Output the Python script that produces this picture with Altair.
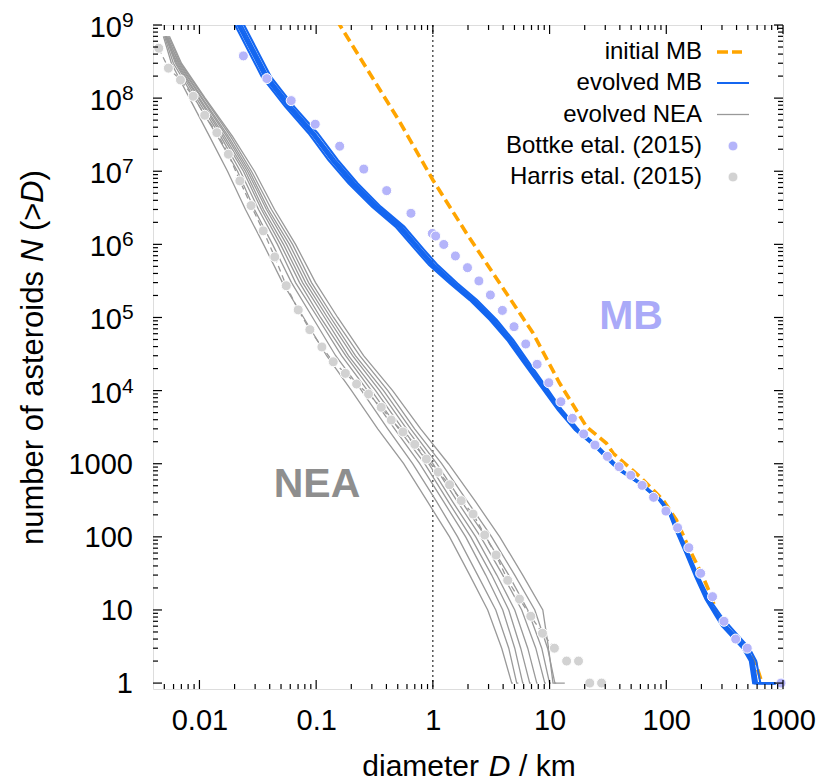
import altair as alt
import pandas as pd

# ---------------- data ----------------
bottke_D = [0.0238, 0.0378, 0.0611, 0.0982, 0.159, 0.256, 0.402, 0.649, 0.990, 1.057,
            1.24, 1.56, 1.98, 2.48, 3.11, 3.94, 4.96, 6.25, 7.82, 9.84,
            12.5, 15.7, 19.6, 24.5, 31.3, 39.4, 49.7, 62.1, 77.8, 99.3,
            125, 156, 197, 249, 312, 393, 494, 962]
bottke_N = [3.78e8, 1.85e8, 9.25e7, 4.40e7, 2.20e7, 1.07e7, 5.43e6, 2.66e6, 1.41e6, 1.30e6,
            9.97e5, 6.94e5, 4.80e5, 3.16e5, 2.03e5, 1.25e5, 7.48e4, 4.34e4, 2.29e4, 1.28e4,
            7050, 4180, 2550, 1800, 1260, 910, 694, 506, 347, 225,
            133, 71, 31.7, 15.2, 7, 4, 3, 1]

harris_D = [0.00448, 0.00542, 0.00688, 0.00884, 0.0111, 0.0141, 0.0177, 0.0222, 0.0277, 0.0352,
            0.0442, 0.0554, 0.0702, 0.0883, 0.112, 0.140, 0.178, 0.222, 0.281, 0.361,
            0.440, 0.554, 0.699, 0.880, 1.11, 1.39, 1.75, 2.21, 2.78, 3.48,
            4.38, 5.52, 6.90, 8.69, 11.0, 14.0, 17.7, 22.1, 27.9]
harris_N = [4.82e8, 2.57e8, 1.77e8, 1.06e8, 5.83e7, 3.37e7, 1.71e7, 7.38e6, 3.39e6, 1.53e6,
            6.73e5, 2.72e5, 1.27e5, 6.81e4, 3.95e4, 2.48e4, 1.72e4, 1.23e4, 8980, 5910,
            3960, 2720, 1840, 1160, 769, 516, 312, 205, 106, 56.4,
            25.4, 14.1, 8.2, 4.8, 3, 2, 2, 1, 1]
harris_line_points = 35  # the dashed gray line runs through the first Harris points

initial_mb_D = [0.150, 0.169, 0.519, 1.00, 1.94, 3.74, 7.23, 12.2, 20.7, 30.7, 35.1,
                59.4, 94.0, 122, 159, 200, 244, 270, 351, 472, 575, 661]
initial_mb_N = [1.17e9, 8.57e8, 4.77e7, 7.6e6, 1.42e6, 2.94e5, 6.08e4, 1.26e4, 3210, 1900, 1387,
                664, 319, 170, 66, 31.7, 15.2, 9, 5, 3, 2, 1]

evolved_mb_N = [1.85e9, 1e9, 1.97e8, 7.65e7, 3.31e7, 1.43e7, 6.86e6, 3.28e6, 1.75e6, 8.4e5,
                5.2e5, 2.94e5, 1.73e5, 9.24e4, 4.92e4, 2.36e4, 1.13e4, 5430, 2890, 1710,
                1010, 821, 540, 319, 210, 124, 60, 28, 14, 8,
                6, 4, 3, 2, 1, 1]
evolved_mb_D_runs = [
    [0.0165, 0.0202, 0.0342, 0.0543, 0.0860, 0.127, 0.189, 0.301, 0.478, 0.712,
     0.928, 1.39, 2.07, 3.08, 4.33, 6.03, 8.42, 11.8, 16.5, 24.5,
     34.0, 39.0, 58.0, 86.5, 105.5, 120, 146, 178, 217, 268,
     300, 380, 450, 520, 555, 942],
    [0.0174, 0.0212, 0.0360, 0.0567, 0.0905, 0.134, 0.198, 0.316, 0.500, 0.748,
     0.970, 1.45, 2.15, 3.19, 4.46, 6.23, 8.66, 12.0, 16.8, 24.9,
     34.6, 39.6, 58.9, 87.5, 106.5, 122, 148, 181, 220, 276,
     312, 393, 463, 532, 568, 942],
    [0.0181, 0.0220, 0.0373, 0.0591, 0.0937, 0.139, 0.206, 0.327, 0.519, 0.771,
     1.00, 1.49, 2.21, 3.27, 4.56, 6.34, 8.80, 12.2, 17.0, 25.2,
     35.0, 40.0, 59.4, 88.2, 107, 123, 149, 182, 222, 279,
     318, 401, 472, 540, 576, 942],
    [0.0183, 0.0217, 0.0380, 0.0582, 0.0955, 0.137, 0.210, 0.322, 0.527, 0.760,
     1.02, 1.47, 2.25, 3.24, 4.62, 6.30, 8.90, 12.1, 17.2, 25.0,
     35.3, 39.8, 59.8, 88.0, 107.5, 123.5, 150, 183, 224, 282,
     325, 408, 480, 550, 590, 942],
    [0.0188, 0.0229, 0.0387, 0.0616, 0.0970, 0.145, 0.215, 0.339, 0.540, 0.798,
     1.04, 1.54, 2.28, 3.37, 4.68, 6.48, 8.97, 12.4, 17.3, 25.6,
     35.5, 40.5, 60.1, 89.0, 108, 124.5, 151, 184, 226, 286,
     330, 415, 490, 560, 600, 942],
    [0.0198, 0.0241, 0.0408, 0.0648, 0.103, 0.153, 0.226, 0.357, 0.568, 0.842,
     1.10, 1.62, 2.39, 3.53, 4.88, 6.74, 9.30, 12.8, 17.8, 26.3,
     36.4, 41.4, 61.5, 90.5, 110, 127, 155, 190, 235, 300,
     350, 438, 515, 590, 640, 942],
]

nea_N = [7e8, 3e8, 1e8, 3e7, 1e7, 3e6, 1e6, 3e5, 1e5, 3e4,
         1e4, 3000, 1000, 300, 100, 30, 10, 3, 1, 1]
nea_D_runs = [
    [0.00491, 0.00575, 0.00821, 0.0122, 0.0174, 0.0248, 0.0354, 0.0515, 0.0780, 0.123,
     0.201, 0.337, 0.562, 0.903, 1.39, 2.07, 2.95, 3.89, 4.74, 4.85],
    [0.00501, 0.00598, 0.00906, 0.0143, 0.0212, 0.0296, 0.0423, 0.0615, 0.0932, 0.147,
     0.245, 0.411, 0.671, 1.08, 1.63, 2.42, 3.46, 4.47, 5.23, 5.40],
    [0.00511, 0.00622, 0.00942, 0.0152, 0.0224, 0.0321, 0.0466, 0.0666, 0.103, 0.165,
     0.276, 0.470, 0.771, 1.24, 1.91, 2.84, 3.97, 5.03, 5.89, 6.00],
    [0.00521, 0.00634, 0.0098, 0.0158, 0.0238, 0.0340, 0.0495, 0.0721, 0.109, 0.179,
     0.298, 0.509, 0.851, 1.36, 2.11, 3.19, 4.47, 5.66, 6.76, 6.95],
    [0.00511, 0.00648, 0.0100, 0.0164, 0.0248, 0.0354, 0.0525, 0.0765, 0.118, 0.189,
     0.323, 0.551, 0.921, 1.48, 2.33, 3.53, 5.03, 6.50, 7.77, 7.90],
    [0.00532, 0.00661, 0.0104, 0.0171, 0.0258, 0.0375, 0.0557, 0.0812, 0.125, 0.205,
     0.350, 0.596, 1.00, 1.63, 2.57, 3.97, 5.77, 7.62, 9.10, 9.30],
    [0.00521, 0.00674, 0.0106, 0.0177, 0.0268, 0.0390, 0.0591, 0.0861, 0.133, 0.217,
     0.378, 0.646, 1.08, 1.77, 2.84, 4.47, 6.50, 8.57, 10.0, 10.3],
    [0.00542, 0.00687, 0.0110, 0.0185, 0.0279, 0.0414, 0.0628, 0.0913, 0.141, 0.236,
     0.411, 0.698, 1.19, 1.99, 3.19, 5.03, 7.47, 9.62, 11.1, 11.4],
    [0.00553, 0.00701, 0.0112, 0.0192, 0.0296, 0.0440, 0.0666, 0.0988, 0.153, 0.255,
     0.452, 0.786, 1.36, 2.33, 3.74, 5.89, 8.75, 9.80, 10.7, 13.5],
]

x_major = [0.01, 0.1, 1, 10, 100, 1000]
x_minor = [m * 10.0 ** k for k in range(-3, 3) for m in range(2, 10)
           if 0.004 < m * 10.0 ** k < 1000]
y_plain_values = [1, 10, 100, 1000]
y_plain_labels = ["1", "10", "100", "1000"]
y_pow_values = [1e4, 1e5, 1e6, 1e7, 1e8, 1e9]
y_pow_base = "10"
y_pow_exponents = ["4", "5", "6", "7", "8", "9"]
y_minor = [m * 10.0 ** k for k in range(0, 9) for m in range(2, 10)]

legend_labels = ["initial MB", "evolved MB", "evolved NEA",
                 "Bottke etal. (2015)", "Harris etal. (2015)"]
x_title_parts = ["diameter", "D", "/ km"]
y_title_parts = ["number of asteroids", "N", "(>", "D", ")"]
region_labels = ["MB", "NEA"]

# ---------------- styling ----------------
W, H = 630, 664
FONT = "Liberation Sans"
ORANGE = "#ffa500"
BLUE = "#1466f0"
GRAY = "#999999"
LAV = "#b4b4fa"
LGRAY = "#d2d2d2"
PSIZE = 100

xscale = alt.Scale(type="log", domain=[0.004, 1000], nice=False)
yscale = alt.Scale(type="log", domain=[0.83, 1e9], nice=False)
xaxis = alt.Axis(values=x_major, format="~g", title=None, ticks=False, domain=False,
                 grid=False, labelFontSize=29, labelPadding=17, labelColor="black",
                 labelFont=FONT, labelFlush=False, labelOverlap=False, labelBound=False)


def X(f):
    return alt.X(f"{f}:Q", scale=xscale, axis=xaxis)


def Y(f):
    return alt.Y(f"{f}:Q", scale=yscale, axis=None)


def runs_df(N, runs):
    rows = []
    for r, Ds in enumerate(runs):
        for i, (d, n) in enumerate(zip(Ds, N)):
            rows.append({"run": r, "i": i, "D": d, "N": n})
    return pd.DataFrame(rows)


init_df = pd.DataFrame({"D": initial_mb_D, "N": initial_mb_N, "i": range(len(initial_mb_D))})
blue_df = runs_df(evolved_mb_N, evolved_mb_D_runs)
nea_df = runs_df(nea_N, nea_D_runs)
bottke_df = pd.DataFrame({"D": bottke_D, "N": bottke_N})
harris_df = pd.DataFrame({"D": harris_D, "N": harris_N})
harris_line_df = harris_df.iloc[:harris_line_points].reset_index(drop=True)
harris_line_df["i"] = range(len(harris_line_df))

layers = []

# dotted line at D = 1 km
layers.append(alt.Chart(pd.DataFrame({"D": [1]})).mark_rule(
    color="black", strokeWidth=1, strokeDash=[2, 3]).encode(x=X("D")))

# initial MB
layers.append(alt.Chart(init_df).mark_line(
    color=ORANGE, strokeWidth=3.6, strokeDash=[10, 5], clip=True).encode(
    x=X("D"), y=Y("N"), order="i:Q"))

# evolved MB
layers.append(alt.Chart(blue_df).mark_line(
    color=BLUE, strokeWidth=2.1, clip=True).encode(
    x=X("D"), y=Y("N"), detail="run:N", order="i:Q"))

# evolved NEA
layers.append(alt.Chart(nea_df).mark_line(
    color=GRAY, strokeWidth=1.3, clip=True).encode(
    x=X("D"), y=Y("N"), detail="run:N", order="i:Q"))

# Harris dashed line
layers.append(alt.Chart(harris_line_df).mark_line(
    color=GRAY, strokeWidth=1.3, strokeDash=[6, 4], clip=True).encode(
    x=X("D"), y=Y("N"), order="i:Q"))

# observational points
layers.append(alt.Chart(bottke_df).mark_circle(
    size=PSIZE, color=LAV, opacity=1, stroke="white", strokeWidth=1).encode(x=X("D"), y=Y("N")))
layers.append(alt.Chart(harris_df).mark_circle(
    size=PSIZE, color=LGRAY, opacity=1, stroke="white", strokeWidth=1).encode(x=X("D"), y=Y("N")))

# ticks (inward, on all four sides)
MAJ, MIN = 9, 5
xmaj = pd.DataFrame({"v": x_major})
xmin = pd.DataFrame({"v": x_minor})
ymaj = pd.DataFrame({"v": y_plain_values + y_pow_values})
ymin = pd.DataFrame({"v": y_minor})
for df, L in ((xmaj, MAJ), (xmin, MIN)):
    layers.append(alt.Chart(df).mark_rule(color="black", strokeWidth=1.2).encode(
        x=X("v"), y=alt.value(H), y2=alt.value(H - L)))
    layers.append(alt.Chart(df).mark_rule(color="black", strokeWidth=1.2).encode(
        x=X("v"), y=alt.value(0), y2=alt.value(L)))
for df, L in ((ymaj, MAJ), (ymin, MIN)):
    layers.append(alt.Chart(df).mark_rule(color="black", strokeWidth=1.2).encode(
        y=Y("v"), x=alt.value(0), x2=alt.value(L)))
    layers.append(alt.Chart(df).mark_rule(color="black", strokeWidth=1.2).encode(
        y=Y("v"), x=alt.value(W), x2=alt.value(W - L)))

# y tick labels
layers.append(alt.Chart(pd.DataFrame({"v": y_plain_values, "t": y_plain_labels})).mark_text(
    align="right", baseline="middle", fontSize=29, font=FONT, color="black", dy=1).encode(
    y=Y("v"), x=alt.value(-20), text="t:N"))
pow_df = pd.DataFrame({"v": y_pow_values, "b": [y_pow_base] * len(y_pow_values),
                       "e": y_pow_exponents})
layers.append(alt.Chart(pow_df).mark_text(
    align="right", baseline="middle", fontSize=29, font=FONT, color="black", dy=3).encode(
    y=Y("v"), x=alt.value(-31), text="b:N"))
layers.append(alt.Chart(pow_df).mark_text(
    align="left", baseline="alphabetic", fontSize=21, font=FONT, color="black", dy=2).encode(
    y=Y("v"), x=alt.value(-31), text="e:N"))


def ptext(txt, x, y, **kw):
    return alt.Chart(pd.DataFrame({"t": [txt]})).mark_text(font=FONT, **kw).encode(
        text="t:N", x=alt.value(x), y=alt.value(y))


# axis titles (mixed upright / italic)
XT_Y = 751
layers.append(ptext(x_title_parts[0], 326, XT_Y, align="right", baseline="alphabetic", fontSize=30))
layers.append(ptext(x_title_parts[1], 346.5, XT_Y, align="center", baseline="alphabetic",
                    fontSize=30, fontStyle="italic"))
layers.append(ptext(x_title_parts[2], 366, XT_Y, align="left", baseline="alphabetic", fontSize=30))

YT_X = -110
ypos = [520, 237, 206, 178, 155.5]
ystyle = ["normal", "italic", "normal", "italic", "normal"]
for part, yy, st in zip(y_title_parts, ypos, ystyle):
    layers.append(ptext(part, YT_X, yy, align="left", baseline="alphabetic", fontSize=31,
                        angle=270, fontStyle=st))

# region labels
layers.append(ptext(region_labels[0], 478, 292, align="center", baseline="middle",
                    fontSize=41, fontWeight="bold", color="#aaaaf8"))
layers.append(ptext(region_labels[1], 164, 460, align="center", baseline="middle",
                    fontSize=41, fontWeight="bold", color="#8e8e8e"))

# legend (gnuplot style: label right-aligned, sample to its right)
LX, SX0, SX1, PX = 549, 564, 596, 580
rows = [27, 58, 89.5, 121, 152]
for lab, yy in zip(legend_labels, rows):
    layers.append(ptext(lab, LX, yy, align="right", baseline="middle", fontSize=24, color="black"))
one = pd.DataFrame({"a": [0]})
layers.append(alt.Chart(one).mark_rule(color=ORANGE, strokeWidth=3.6, strokeDash=[11, 4]).encode(
    x=alt.value(SX0), x2=alt.value(589), y=alt.value(rows[0])))
layers.append(alt.Chart(one).mark_rule(color=BLUE, strokeWidth=2).encode(
    x=alt.value(SX0), x2=alt.value(SX1), y=alt.value(rows[1])))
layers.append(alt.Chart(one).mark_rule(color=GRAY, strokeWidth=1.3).encode(
    x=alt.value(SX0), x2=alt.value(SX1), y=alt.value(rows[2])))
layers.append(alt.Chart(one).mark_circle(size=PSIZE, color=LAV, opacity=1, stroke="white",
                                         strokeWidth=1).encode(x=alt.value(PX), y=alt.value(rows[3])))
layers.append(alt.Chart(one).mark_circle(size=PSIZE, color=LGRAY, opacity=1, stroke="white",
                                         strokeWidth=1).encode(x=alt.value(PX), y=alt.value(rows[4])))

chart = alt.layer(*layers).properties(
    width=W, height=H,
    autosize=alt.AutoSizeParams(type="none"),
    padding={"left": 145, "top": 17, "right": 34, "bottom": 92},
).configure_view(stroke="black", strokeWidth=2).configure(font=FONT)

chart.save("out.html", embed_options={"renderer": "svg", "actions": False})
